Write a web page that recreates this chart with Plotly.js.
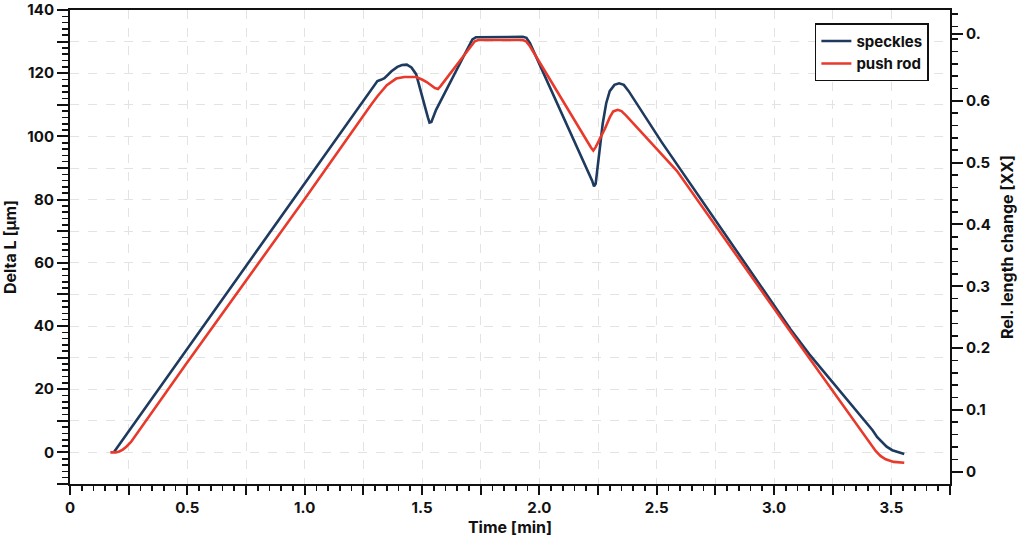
<!DOCTYPE html>
<html>
<head>
<meta charset="utf-8">
<script src="https://cdn.plot.ly/plotly-3.0.1.min.js"></script>
<style>html,body{margin:0;padding:0;background:#fff;}#chart{width:1024px;height:537px;}</style>
</head>
<body>
<div id="chart"></div>
<script>
// ---- data ----
const speckleTime = [0.186, 0.5, 1.0, 1.297, 1.31, 1.325, 1.34, 1.37, 1.395, 1.415, 1.435, 1.455, 1.475, 1.525, 1.532, 1.54, 1.56, 1.7, 1.715, 1.73, 1.93, 1.945, 1.96, 2.225, 2.233, 2.24, 2.27, 2.285, 2.3, 2.32, 2.34, 2.36, 2.38, 2.522, 3.0, 3.071, 3.15, 3.42, 3.44, 3.462, 3.48, 3.504, 3.53, 3.555];
const speckleDL   = [0, 32.9, 85.4, 116.5, 117.5, 117.9, 118.4, 120.6, 122.0, 122.6, 122.7, 121.8, 119.7, 106.0, 104.4, 104.6, 108.4, 128.6, 130.7, 131.4, 131.5, 131.2, 129.5, 86.0, 84.2, 85.0, 104.0, 110.5, 114.3, 116.3, 116.8, 116.3, 114.4, 98.1, 46.2, 38.9, 31.1, 7.0, 4.8, 3.0, 1.8, 0.7, 0.0, -0.5];

const pushRodTime = [0.172, 0.195, 0.21, 0.225, 0.24, 0.26, 0.5, 1.0, 1.283, 1.311, 1.35, 1.39, 1.425, 1.475, 1.5, 1.52, 1.555, 1.568, 1.58, 1.65, 1.715, 1.725, 1.74, 1.93, 1.945, 1.96, 2.22, 2.23, 2.24, 2.28, 2.3, 2.315, 2.334, 2.35, 2.37, 2.586, 3.064, 3.37, 3.398, 3.415, 3.434, 3.455, 3.476, 3.51, 3.555];
const pushRodDL   = [0, 0, 0.3, 0.9, 1.8, 3.3, 28.5, 80.2, 110.0, 112.8, 116.2, 118.3, 118.8, 118.8, 118.0, 117.2, 115.3, 115.0, 116.0, 122.7, 129.0, 130.1, 130.5, 130.5, 130.0, 128.5, 96.5, 95.5, 96.6, 102.5, 106.0, 107.9, 108.4, 108.0, 106.6, 89.1, 38.8, 6.8, 3.9, 2.0, 0.4, -1.2, -2.2, -3.0, -3.3];

const seriesNames = ['speckles', 'push rod'];

const xTickVals = [0, 0.25, 0.5, 0.75, 1.0, 1.25, 1.5, 1.75, 2.0, 2.25, 2.5, 2.75, 3.0, 3.25, 3.5, 3.75];
const xTickText = ['0', '', '0.5', '', '1.0', '', '1.5', '', '2.0', '', '2.5', '', '3.0', '', '3.5', ''];
const yTickVals = [-10, 0, 10, 20, 30, 40, 50, 60, 70, 80, 90, 100, 110, 120, 130, 140];
const yTickText = ['', '0', '', '20', '', '40', '', '60', '', '80', '', '100', '', '120', '', '140'];
const y2TickVals = [0, 0.1, 0.2, 0.3, 0.4, 0.5, 0.6, 0.708];
const y2TickText = ['0', '0.1', '0.2', '0.3', '0.4', '0.5', '0.6', '0.'];

// ---- chart ----
const FONT = 'Inter, "Open Sans", "DejaVu Sans", sans-serif';
const tickFont = {family: FONT, size: 15, color: '#111', weight: 'bold'};
const titleFont = {family: FONT, size: 16, color: '#111', weight: 'bold'};

const traces = [
  {x: speckleTime, y: speckleDL, name: seriesNames[0], type: 'scatter', mode: 'lines',
   line: {color: '#1e3a5f', width: 2.6, shape: 'linear'}},
  {x: pushRodTime, y: pushRodDL, name: seriesNames[1], type: 'scatter', mode: 'lines',
   line: {color: '#e8392b', width: 2.6, shape: 'linear'}},
  {x: [], y: [], yaxis: 'y2', showlegend: false, hoverinfo: 'skip', type: 'scatter'}
];

const layout = {
  width: 1024, height: 537,
  margin: {l: 70, r: 74, t: 10, b: 53},
  paper_bgcolor: '#fff', plot_bgcolor: '#fff',
  font: {family: FONT, size: 15, color: '#111'},
  showlegend: true,
  legend: {x: 0.976, y: 0.972, xanchor: 'right', yanchor: 'top',
           bordercolor: '#111', borderwidth: 1.5, bgcolor: '#fff',
           font: {family: FONT, size: 15, color: '#111', weight: 'bold'},
           itemwidth: 30, tracegroupgap: 0},
  xaxis: {
    range: [0, 3.75], tickmode: 'array', tickvals: xTickVals, ticktext: xTickText,
    ticks: 'outside', ticklen: 9, tickwidth: 2, tickcolor: '#111',
    minor: {tickmode: 'linear', tick0: 0, dtick: 0.05, ticks: 'outside', ticklen: 5, tickwidth: 1.6, tickcolor: '#111', showgrid: false},
    showline: true, linewidth: 2, linecolor: '#111', mirror: true,
    showgrid: true, gridcolor: '#e3e3e3', griddash: 'dash', gridwidth: 1,
    zeroline: false, tickfont: tickFont, ticklabeloverflow: 'allow',
    title: {text: 'Time [min]', font: titleFont, standoff: 4}
  },
  yaxis: {
    range: [-10, 140], tickmode: 'array', tickvals: yTickVals, ticktext: yTickText,
    ticks: 'outside', ticklen: 11, tickwidth: 2, tickcolor: '#111',
    minor: {tickmode: 'linear', tick0: 0, dtick: 2, ticks: 'outside', ticklen: 6, tickwidth: 1.6, tickcolor: '#111', showgrid: false},
    showline: true, linewidth: 2, linecolor: '#111',
    showgrid: true, gridcolor: '#e3e3e3', griddash: 'dash', gridwidth: 1,
    zeroline: false, tickfont: tickFont, ticklabeloverflow: 'allow',
    title: {text: 'Delta L [µm]', font: titleFont, standoff: 10}
  },
  yaxis2: {
    overlaying: 'y', side: 'right',
    range: [-0.0199, 0.7469], tickmode: 'array', tickvals: y2TickVals, ticktext: y2TickText,
    ticks: 'outside', ticklen: 11, tickwidth: 2, tickcolor: '#111',
    minor: {tickmode: 'linear', tick0: 0, dtick: 0.02, ticks: 'outside', ticklen: 6, tickwidth: 1.6, tickcolor: '#111', showgrid: false},
    showline: true, linewidth: 2, linecolor: '#111',
    showgrid: false, zeroline: false, tickfont: tickFont, ticklabeloverflow: 'allow',
    title: {text: 'Rel. length change [XX]', font: titleFont, standoff: 12}
  }
};

Plotly.newPlot('chart', traces, layout, {displayModeBar: false, staticPlot: true});
</script>
</body>
</html>
